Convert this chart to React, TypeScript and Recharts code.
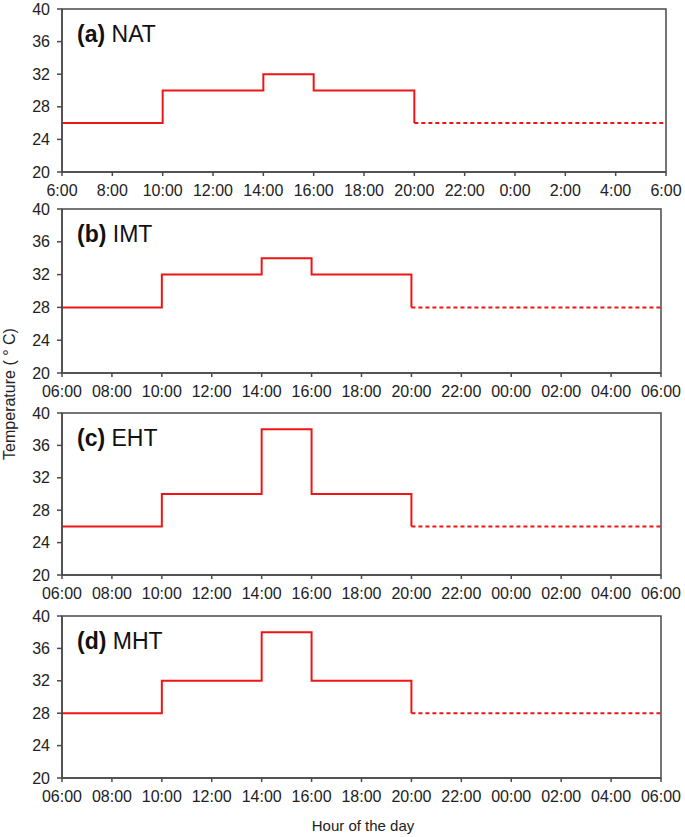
import {
  Line,
  LineChart,
  ReferenceArea,
  XAxis,
  YAxis,
} from "recharts"

// hours since midnight, continuing past 24 for the night part
const HOURS = [6, 10, 14, 16, 20, 30]
const X_TICKS = [6, 8, 10, 12, 14, 16, 18, 20, 22, 24, 26, 28, 30]
const SHORT_LABELS = ["6:00", "8:00", "10:00", "12:00", "14:00", "16:00", "18:00", "20:00", "22:00", "0:00", "2:00", "4:00", "6:00"]
const LONG_LABELS = ["06:00", "08:00", "10:00", "12:00", "14:00", "16:00", "18:00", "20:00", "22:00", "00:00", "02:00", "04:00", "06:00"]
const Y_TICKS = [20, 24, 28, 32, 36, 40]

// daytime steps (solid) and the night value (dashed)
const NAT_DAY = [26, 30, 32, 30, 26]
const IMT_DAY = [28, 32, 34, 32, 28]
const EHT_DAY = [26, 30, 38, 30, 26]
const MHT_DAY = [28, 32, 38, 32, 28]

const NAT_NIGHT = 26
const IMT_NIGHT = 28
const EHT_NIGHT = 26
const MHT_NIGHT = 28

const FONT = "'Liberation Sans', Arial, sans-serif"
const RED = "#ee1515"
const AXIS = "#4a4a4a"

const buildRows = (day: number[], night: number) =>
  HOURS.map((h, i) => ({
    hour: h,
    day: i < day.length ? day[i] : null,
    night: i >= day.length - 1 ? night : null,
  }))

type PanelProps = {
  letter: string
  name: string
  day: number[]
  night: number
  labels: string[]
  top: number
  bottom: number
  right: number
}

function Panel({ letter, name, day, night, labels, top, bottom, right }: PanelProps) {
  const mTop = 8
  const xH = 32
  const height = bottom - top + mTop + xH
  const rows = buildRows(day, night)
  const tick = { fill: "#222", fontSize: 16, fontFamily: FONT }

  return (
    <div style={{ position: "absolute", left: 0, top: top - mTop }}>
      <LineChart
        width={685}
        height={height}
        data={rows}
        margin={{ top: mTop, right: 685 - right, bottom: 0, left: 0 }}
      >
        <XAxis
          dataKey="hour"
          type="number"
          domain={[6, 30]}
          ticks={X_TICKS}
          tickFormatter={(v: number) => labels[X_TICKS.indexOf(v)] ?? ""}
          interval={0}
          height={xH}
          tickSize={4}
          tickMargin={9}
          stroke={AXIS}
          strokeWidth={1.5}
          tick={tick}
          allowDataOverflow
        />
        <YAxis
          type="number"
          domain={[20, 40]}
          ticks={Y_TICKS}
          interval={0}
          width={62}
          tickSize={5}
          tickMargin={7}
          stroke={AXIS}
          strokeWidth={1.5}
          tick={tick}
        />
        <ReferenceArea
          x1={6}
          x2={30}
          y1={20}
          y2={40}
          fill="none"
          stroke={AXIS}
          strokeWidth={1.5}
        />
        <Line
          dataKey="day"
          type="stepAfter"
          stroke={RED}
          strokeWidth={2}
          dot={false}
          isAnimationActive={false}
        />
        <Line
          dataKey="night"
          type="linear"
          stroke={RED}
          strokeWidth={2}
          strokeDasharray="4 3"
          dot={false}
          isAnimationActive={false}
        />
      </LineChart>
      <div
        style={{
          position: "absolute",
          left: 77,
          top: mTop + 14,
          fontFamily: FONT,
          fontSize: 23,
          lineHeight: 1,
          color: "#111",
          whiteSpace: "nowrap",
        }}
      >
        <b>({letter})</b> {name}
      </div>
    </div>
  )
}

export default function App() {
  return (
    <div
      style={{
        position: "absolute",
        left: 0,
        top: 0,
        width: 685,
        height: 837,
        background: "#fff",
        overflow: "hidden",
      }}
    >
      <Panel letter="a" name="NAT" day={NAT_DAY} night={NAT_NIGHT} labels={SHORT_LABELS} top={9} bottom={172} right={666} />
      <Panel letter="b" name="IMT" day={IMT_DAY} night={IMT_NIGHT} labels={LONG_LABELS} top={209} bottom={373} right={661} />
      <Panel letter="c" name="EHT" day={EHT_DAY} night={EHT_NIGHT} labels={LONG_LABELS} top={413} bottom={575} right={661} />
      <Panel letter="d" name="MHT" day={MHT_DAY} night={MHT_NIGHT} labels={LONG_LABELS} top={616} bottom={778} right={661} />
      <div
        style={{
          position: "absolute",
          left: 10,
          top: 394,
          transform: "translate(-50%, -50%) rotate(-90deg)",
          fontFamily: FONT,
          fontSize: 16,
          color: "#222",
          whiteSpace: "pre",
        }}
      >
        {"Temperature ( ° C)"}
      </div>
      <div
        style={{
          position: "absolute",
          left: 363,
          top: 825,
          transform: "translate(-50%, -50%)",
          fontFamily: FONT,
          fontSize: 15,
          color: "#222",
          whiteSpace: "nowrap",
        }}
      >
        Hour of the day
      </div>
    </div>
  )
}
